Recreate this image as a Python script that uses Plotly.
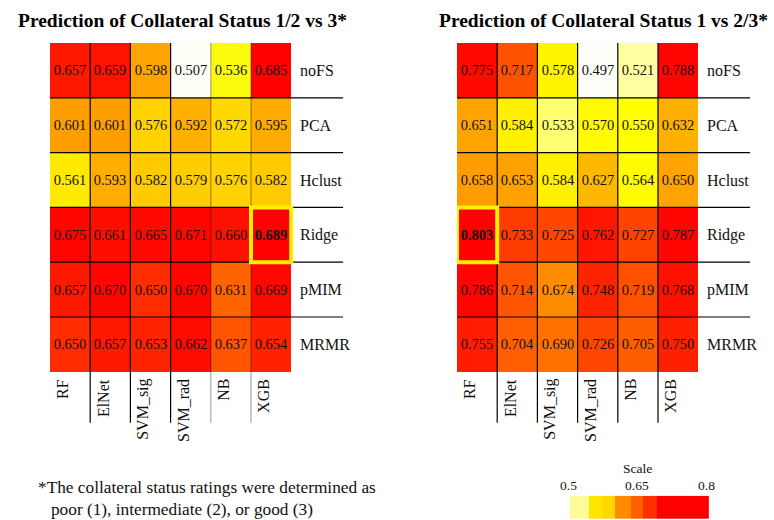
import plotly.graph_objects as go
import numpy as np

# ---------------- data ----------------
methods = ["RF", "ElNet", "SVM_sig", "SVM_rad", "NB", "XGB"]
feature_sel = ["noFS", "PCA", "Hclust", "Ridge", "pMIM", "MRMR"]

auc_12_vs_3 = [
    [0.657, 0.659, 0.598, 0.507, 0.536, 0.685],
    [0.601, 0.601, 0.576, 0.592, 0.572, 0.595],
    [0.561, 0.593, 0.582, 0.579, 0.576, 0.582],
    [0.675, 0.661, 0.665, 0.671, 0.660, 0.689],
    [0.657, 0.670, 0.650, 0.670, 0.631, 0.669],
    [0.650, 0.657, 0.653, 0.662, 0.637, 0.654],
]
auc_1_vs_23 = [
    [0.775, 0.717, 0.578, 0.497, 0.521, 0.788],
    [0.651, 0.584, 0.533, 0.570, 0.550, 0.632],
    [0.658, 0.653, 0.584, 0.627, 0.564, 0.650],
    [0.803, 0.733, 0.725, 0.762, 0.727, 0.787],
    [0.786, 0.714, 0.674, 0.748, 0.719, 0.768],
    [0.755, 0.704, 0.690, 0.726, 0.705, 0.750],
]
titles = ["Prediction of Collateral Status 1/2 vs 3*",
          "Prediction of Collateral Status 1 vs 2/3*"]
footnote_lines = ["*The collateral status ratings were determined as",
                  "poor (1), intermediate (2), or good (3)"]
scale_title = "Scale"
scale_ticks = [0.5, 0.65, 0.8]
scale_tick_labels = ["0.5", "0.65", "0.8"]
scale_edges = [0.504, 0.546, 0.575, 0.602, 0.636, 0.662, 0.693, 0.8065]

# ---------------- styles ----------------
scale_colors = ["#FFFA9A", "#FFE600", "#FFD800", "#FF8C00", "#FF6000", "#FF3000", "#FF0000"]
left_stops = [
    (0.500, "#FFFFFF"), (0.510, "#FFFFF5"), (0.530, "#FFFF20"), (0.540, "#FAF800"),
    (0.560, "#FFEC00"), (0.572, "#FFD800"), (0.582, "#FFCA00"), (0.592, "#FFB000"),
    (0.600, "#FFA000"), (0.631, "#FF6400"), (0.637, "#FF5400"), (0.650, "#FF2C00"),
    (0.657, "#FF1800"), (0.662, "#FF0C00"), (0.672, "#FF0600"), (0.690, "#FF0000"),
]
right_stops = [
    (0.490, "#FFFFFF"), (0.500, "#FFFFF8"), (0.521, "#FFFFA0"), (0.533, "#FFFF70"),
    (0.550, "#FFFF00"), (0.570, "#FFFA00"), (0.584, "#FFF000"), (0.610, "#FFCC00"),
    (0.627, "#FFB800"), (0.632, "#FFB000"), (0.655, "#FFA000"), (0.674, "#FF8C00"),
    (0.690, "#FF7200"), (0.705, "#FF5E00"), (0.719, "#FF5000"), (0.727, "#FF4400"),
    (0.733, "#FF3C00"), (0.750, "#FF2000"), (0.762, "#FF1600"), (0.775, "#FF0A00"),
    (0.786, "#FF0400"), (0.810, "#FF0000"),
]

W, H = 774, 520
FONT = "Liberation Serif, 'Times New Roman', serif"
cell_w, cell_h = 40.2, 54.8
top_px = 43
panel_left_px = [50, 457]
ext_x_px, ext_y_px = 52, 71      # extension of row lines / room for column labels
stub_px = 51                     # vertical lines below grid


def make_scale(stops):
    lo, hi = stops[0][0], stops[-1][0]
    return [[(v - lo) / (hi - lo), c] for v, c in stops], lo, hi


fig = go.Figure()
shapes, annotations = [], []
n_r, n_c = len(feature_sel), len(methods)
ext_x = ext_x_px / cell_w
ext_y = ext_y_px / cell_h
stub = stub_px / cell_h

for p, (vals, stops) in enumerate([(auc_12_vs_3, left_stops), (auc_1_vs_23, right_stops)]):
    ax = "" if p == 0 else str(p + 1)
    xref, yref = "x" + ax, "y" + ax
    cs, lo, hi = make_scale(stops)
    z = np.array(vals)
    r_max, c_max = np.unravel_index(np.argmax(z), z.shape)
    text = [[("<b>%.3f</b>" if (i == r_max and j == c_max) else "%.3f") % z[i, j]
             for j in range(n_c)] for i in range(n_r)]
    fig.add_trace(go.Heatmap(
        z=z, x=methods, y=feature_sel, xaxis=xref, yaxis=yref,
        colorscale=cs, zmin=lo, zmax=hi, showscale=False,
        text=text, texttemplate="%{text}",
        textfont=dict(family=FONT, size=14.5, color="#111111"),
        hoverinfo="skip", xgap=0, ygap=0,
    ))
    x0_px = panel_left_px[p]
    x1_px = x0_px + n_c * cell_w + ext_x_px
    y1_px = top_px + n_r * cell_h + ext_y_px
    fig.layout["xaxis" + ax] = dict(
        domain=[x0_px / W, x1_px / W], range=[-0.5, n_c - 0.5 + ext_x],
        visible=False, type="category", anchor=yref)
    fig.layout["yaxis" + ax] = dict(
        domain=[1 - y1_px / H, 1 - top_px / H], range=[n_r - 0.5 + ext_y, -0.5],
        visible=False, type="category", anchor=xref)

    # horizontal lines between rows, extended to the right
    for r in range(n_r - 1):
        shapes.append(dict(type="line", xref=xref, yref=yref, x0=-0.5, x1=n_c - 0.5 + ext_x,
                           y0=r + 0.5, y1=r + 0.5, line=dict(color="black", width=1.2)))
    # vertical lines between columns, extended below
    for c in range(n_c - 1):
        col = "black"
        if p == 0 and c >= 3:
            col = "rgba(0,0,0,0.35)"
        shapes.append(dict(type="line", xref=xref, yref=yref, x0=c + 0.5, x1=c + 0.5,
                           y0=-0.5, y1=n_r - 0.5 + stub, line=dict(color=col, width=1.2)))
    # highlight of best cell
    shapes.append(dict(type="rect", xref=xref, yref=yref,
                       x0=c_max - 0.5, x1=c_max + 0.5, y0=r_max - 0.5, y1=r_max + 0.5,
                       line=dict(color="#FFF000", width=4), layer="above"))
    # row labels
    for r, name in enumerate(feature_sel):
        annotations.append(dict(xref=xref, yref=yref, x=n_c - 0.5, y=r, text=name,
                                showarrow=False, xanchor="left", xshift=7,
                                font=dict(family=FONT, size=16, color="#111111")))
    # column labels
    for c, name in enumerate(methods):
        annotations.append(dict(xref=xref, yref=yref, x=c, y=n_r - 0.5, text=name,
                                showarrow=False, textangle=-90, xanchor="center",
                                yanchor="top", xshift=-7, yshift=-5,
                                font=dict(family=FONT, size=16, color="#111111")))
    # title
    tcx = [182, 603][p]
    annotations.append(dict(xref="paper", yref="paper", x=tcx / W, y=1 - 21 / H,
                            text="<b>" + titles[p] + "</b>", showarrow=False,
                            xanchor="center", yanchor="middle",
                            font=dict(family=FONT, size=19.5, color="#000000")))

# footnote
annotations.append(dict(xref="paper", yref="paper", x=36 / W, y=1 - 498 / H,
                        text=footnote_lines[0] + "<br>\u00a0\u00a0\u00a0" + footnote_lines[1],
                        showarrow=False, xanchor="left", yanchor="middle", align="left",
                        font=dict(family=FONT, size=17.3, color="#111111")))

# scale legend
n_s = len(scale_colors)
s_cs = []
for k, col in enumerate(scale_colors):
    s_cs.append([k / n_s, col])
    s_cs.append([(k + 1) / n_s, col])
fig.add_trace(go.Heatmap(
    z=[list(range(n_s))], x=scale_edges, y=[0, 1], xaxis="x3", yaxis="y3",
    colorscale=s_cs, zmin=-0.5, zmax=n_s - 0.5, showscale=False, hoverinfo="skip"))
s_px0, s_px1 = 568, 712
fig.layout.xaxis3 = dict(domain=[s_px0 / W, s_px1 / W],
                         range=[0.5, 0.5 + (s_px1 - s_px0) / 138 * 0.3],
                         visible=False, anchor="y3")
fig.layout.yaxis3 = dict(domain=[1 / H, 1 - 495.7 / H], range=[0, 1],
                         visible=False, anchor="x3")
for v, lab in zip(scale_ticks, scale_tick_labels):
    annotations.append(dict(xref="x3", yref="paper", x=v, y=1 - 485 / H, text=lab,
                            showarrow=False, xanchor="center", yanchor="middle",
                            font=dict(family=FONT, size=13.5, color="#111111")))
annotations.append(dict(xref="x3", yref="paper", x=0.65, y=1 - 468 / H, text=scale_title,
                        showarrow=False, xanchor="center", yanchor="middle",
                        font=dict(family=FONT, size=13.5, color="#111111")))

fig.update_layout(
    width=W, height=H, margin=dict(l=0, r=0, t=0, b=0),
    paper_bgcolor="white", plot_bgcolor="rgba(0,0,0,0)",
    shapes=shapes, annotations=annotations, showlegend=False,
)
fig.write_html("out.html", config={"displayModeBar": False},
               post_script="document.body.style.margin='0';document.body.style.overflow='hidden';")
